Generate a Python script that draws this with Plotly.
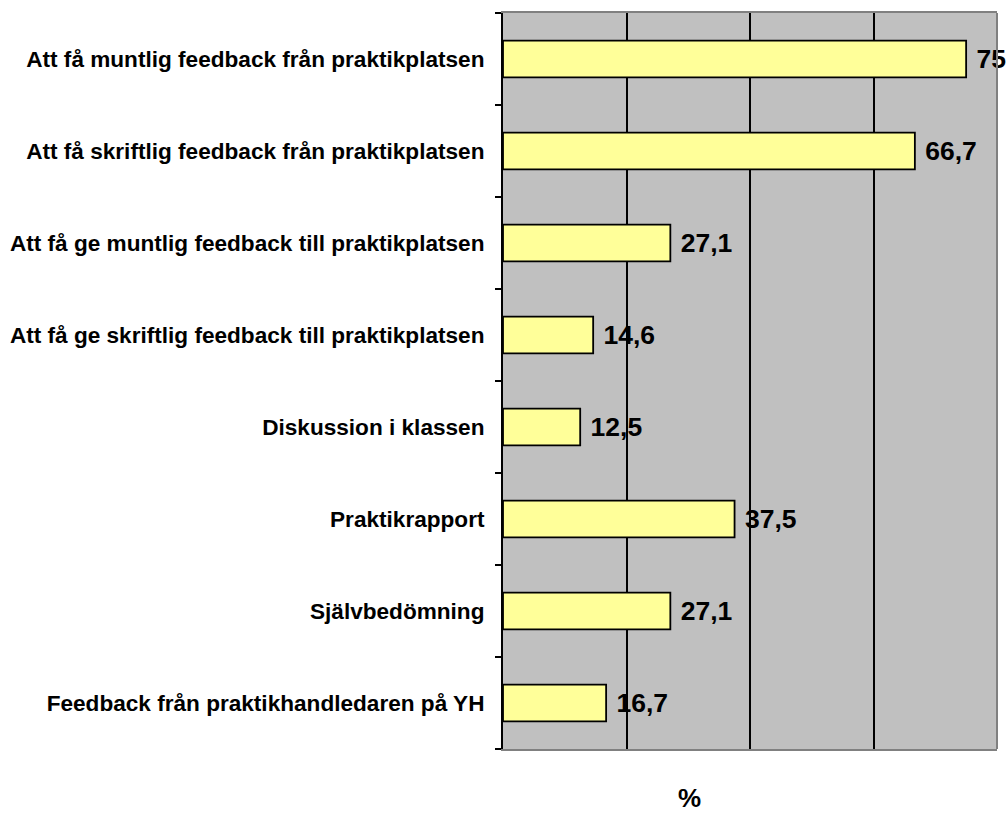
import plotly.graph_objects as go

categories = [
    "Att få muntlig feedback från praktikplatsen",
    "Att få skriftlig feedback från praktikplatsen",
    "Att få ge muntlig feedback till praktikplatsen",
    "Att få ge skriftlig feedback till praktikplatsen",
    "Diskussion i klassen",
    "Praktikrapport",
    "Självbedömning",
    "Feedback från praktikhandledaren på YH",
]
values = [75, 66.7, 27.1, 14.6, 12.5, 37.5, 27.1, 16.7]
value_labels = ["75", "66,7", "27,1", "14,6", "12,5", "37,5", "27,1", "16,7"]
x_title = "%"

FONT = "Arial, Liberation Sans, sans-serif"

fig = go.Figure()
fig.add_trace(go.Bar(
    y=categories, x=values, orientation="h",
    marker=dict(color="#FFFF99", line=dict(color="black", width=1.8)),
    width=0.4,
    text=[" " + t for t in value_labels], textposition="outside",
    texttemplate="<b>%{text}</b>",
    textfont=dict(family=FONT, size=26.5, color="black"),
    cliponaxis=False,
))

fig.update_layout(
    width=1006, height=813,
    margin=dict(l=503, r=9, t=13, b=64),
    paper_bgcolor="white", plot_bgcolor="#C0C0C0",
    showlegend=False,
    font=dict(family=FONT, color="black"),
    xaxis=dict(range=[0, 80], dtick=20, showticklabels=False,
               showgrid=True, gridcolor="black", gridwidth=1.5,
               zeroline=False, showline=True, linecolor="#808080",
               linewidth=2, mirror=True, ticks=""),
    yaxis=dict(autorange="reversed", showline=True, linecolor="black",
               linewidth=2, ticks="outside", ticklen=6, tickcolor="black",
               tickwidth=1.5, tickson="boundaries", showgrid=False,
               tickfont=dict(family=FONT, size=22.6, color="black"),
               ticklabelstandoff=12,
               tickvals=categories,
               ticktext=["<b>" + c + "</b>" for c in categories]),
    bargap=0.6,
    shapes=[dict(type="line", xref="paper", yref="paper", x0=1, x1=1, y0=0, y1=1,
                 line=dict(color="#808080", width=2))],
    annotations=[dict(text="<b>" + x_title + "</b>", x=0.377, xref="paper",
                      y=-0.066, yref="paper", yanchor="middle", showarrow=False,
                      font=dict(family=FONT, size=26, color="black"))],
)

fig.write_html(
    "out.html",
    config={"displayModeBar": False},
    post_script="document.body.style.margin='0';document.body.style.overflow='hidden';",
)
